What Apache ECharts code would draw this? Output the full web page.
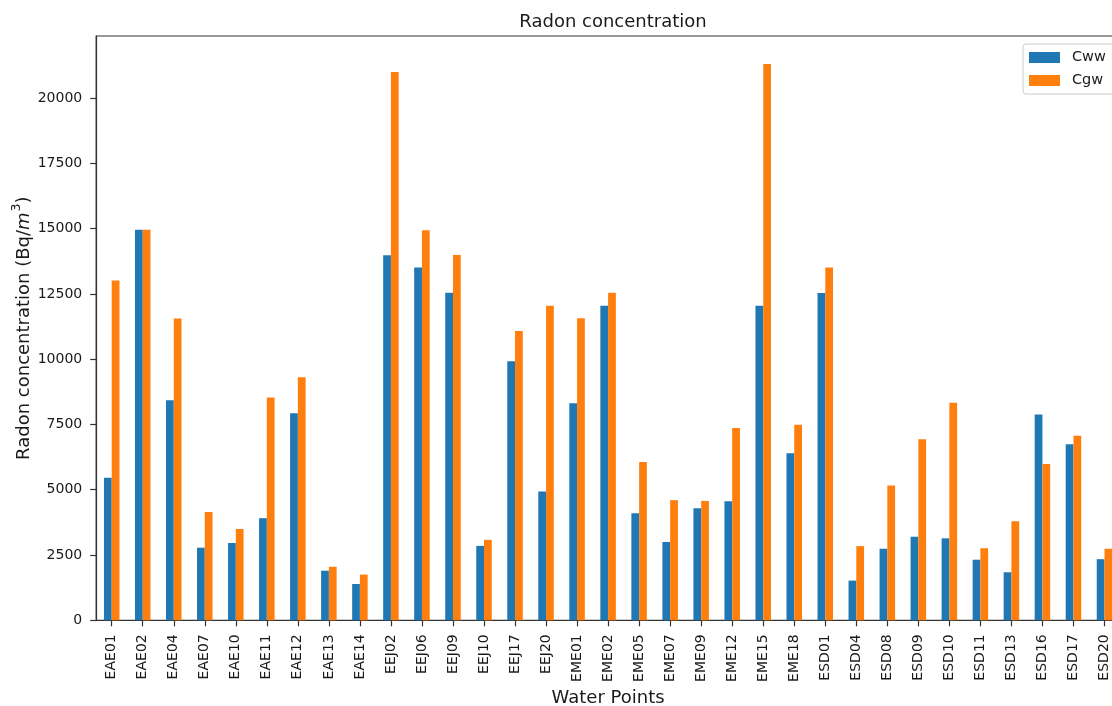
<!DOCTYPE html>
<html>
<head>
<meta charset="utf-8">
<title>Radon concentration</title>
<script src="https://cdn.jsdelivr.net/npm/echarts@6/dist/echarts.min.js"></script>
<style>
  html, body { margin: 0; padding: 0; background: #ffffff; }
  #chart { width: 1112px; height: 706px; }
</style>
</head>
<body>
<div id="chart"></div>
<script>
// Sampling points
const waterPoints = [
  'EAE01', 'EAE02', 'EAE04', 'EAE07', 'EAE10', 'EAE11', 'EAE12', 'EAE13', 'EAE14',
  'EEJ02', 'EEJ06', 'EEJ09', 'EEJ10', 'EEJ17', 'EEJ20',
  'EME01', 'EME02', 'EME05', 'EME07', 'EME09', 'EME12', 'EME15', 'EME18',
  'ESD01', 'ESD04', 'ESD08', 'ESD09', 'ESD10', 'ESD11', 'ESD13', 'ESD16', 'ESD17', 'ESD20'
];

// Radon concentration in Bq/m3
const cww = [
  5460, 14960, 8430, 2780, 2960, 3910, 7930, 1900, 1390,
  13980, 13510, 12540, 2850, 9920, 4930,
  8310, 12050, 4100, 3000, 4290, 4560, 12050, 6400,
  12530, 1520, 2740, 3200, 3140, 2320, 1840, 7880, 6740, 2340
];
const cgw = [
  13010, 14960, 11560, 4150, 3500, 8530, 9310, 2050, 1750,
  21000, 14940, 13990, 3080, 11080, 12050,
  11570, 12540, 6060, 4600, 4570, 7360, 21300, 7490,
  13510, 2840, 5160, 6930, 8330, 2760, 3790, 5990, 7070, 2740
];

const yTicks = [0, 2500, 5000, 7500, 10000, 12500, 15000, 17500, 20000];
const yMax = 22375;

const FONT = 'DejaVu Sans';
const INK = '#1a1a1a';
const SPINE = '#333333';

const chart = echarts.init(document.getElementById('chart'), null, { renderer: 'canvas' });

chart.setOption({
  animation: false,
  backgroundColor: '#ffffff',
  textStyle: { fontFamily: FONT },
  title: {
    text: 'Radon concentration',
    left: 608,
    textAlign: 'center',
    top: 8,
    textStyle: { fontFamily: FONT, fontSize: 18, fontWeight: 'normal', color: INK }
  },
  legend: {
    orient: 'vertical',
    left: 1023,
    top: 44,
    padding: [6, 20, 6, 6],
    itemWidth: 31,
    itemHeight: 11,
    itemGap: 8,
    icon: 'rect',
    backgroundColor: '#ffffff',
    borderColor: '#cccccc',
    borderWidth: 1,
    borderRadius: 3,
    textStyle: { fontFamily: FONT, fontSize: 14.5, color: INK, padding: [0, 0, 0, 7] },
    data: ['Cww', 'Cgw']
  },
  grid: {
    left: 96.2,
    top: 36,
    width: 1023.8,
    height: 584.3,
    containLabel: false,
    outerBoundsMode: 'none',
    show: true,
    borderColor: SPINE,
    borderWidth: 1.2,
    backgroundColor: 'transparent'
  },
  xAxis: {
    type: 'category',
    data: waterPoints,
    name: 'Water Points',
    nameLocation: 'middle',
    nameGap: 69,
    nameMoveOverlap: false,
    nameTextStyle: { fontFamily: FONT, fontSize: 18, color: INK },
    axisLine: { show: true, lineStyle: { color: SPINE, width: 1.2 } },
    axisTick: { show: true, alignWithLabel: true, length: 6, lineStyle: { color: SPINE, width: 1.2 } },
    axisLabel: { rotate: 90, interval: 0, margin: 14, fontFamily: FONT, fontSize: 14, color: INK },
    splitLine: { show: false }
  },
  yAxis: {
    type: 'value',
    min: 0,
    max: yMax,
    interval: 2500,
    name: 'Radon concentration (Bq/{i|m}{sup|3})',
    nameLocation: 'middle',
    nameGap: 58,
    nameMoveOverlap: false,
    nameTextStyle: {
      fontFamily: FONT,
      fontSize: 18,
      color: INK,
      rich: {
        i: { fontFamily: FONT, fontSize: 18, fontStyle: 'italic', color: INK },
        sup: { fontFamily: FONT, fontSize: 12.5, color: INK, padding: [0, 0, 15, 1] }
      }
    },
    axisLine: { show: true, lineStyle: { color: SPINE, width: 1.2 } },
    axisTick: { show: true, length: 6, customValues: yTicks, lineStyle: { color: SPINE, width: 1.2 } },
    axisLabel: {
      margin: 14,
      customValues: yTicks,
      formatter: (v) => String(v),
      fontFamily: FONT,
      fontSize: 14,
      color: INK
    },
    splitLine: { show: false }
  },
  series: [
    {
      name: 'Cww',
      type: 'bar',
      data: cww,
      barWidth: '25%',
      barGap: '0%',
      itemStyle: { color: '#1f77b4' }
    },
    {
      name: 'Cgw',
      type: 'bar',
      data: cgw,
      barWidth: '25%',
      barGap: '0%',
      itemStyle: { color: '#ff7f0e' }
    }
  ]
});
</script>
</body>
</html>
